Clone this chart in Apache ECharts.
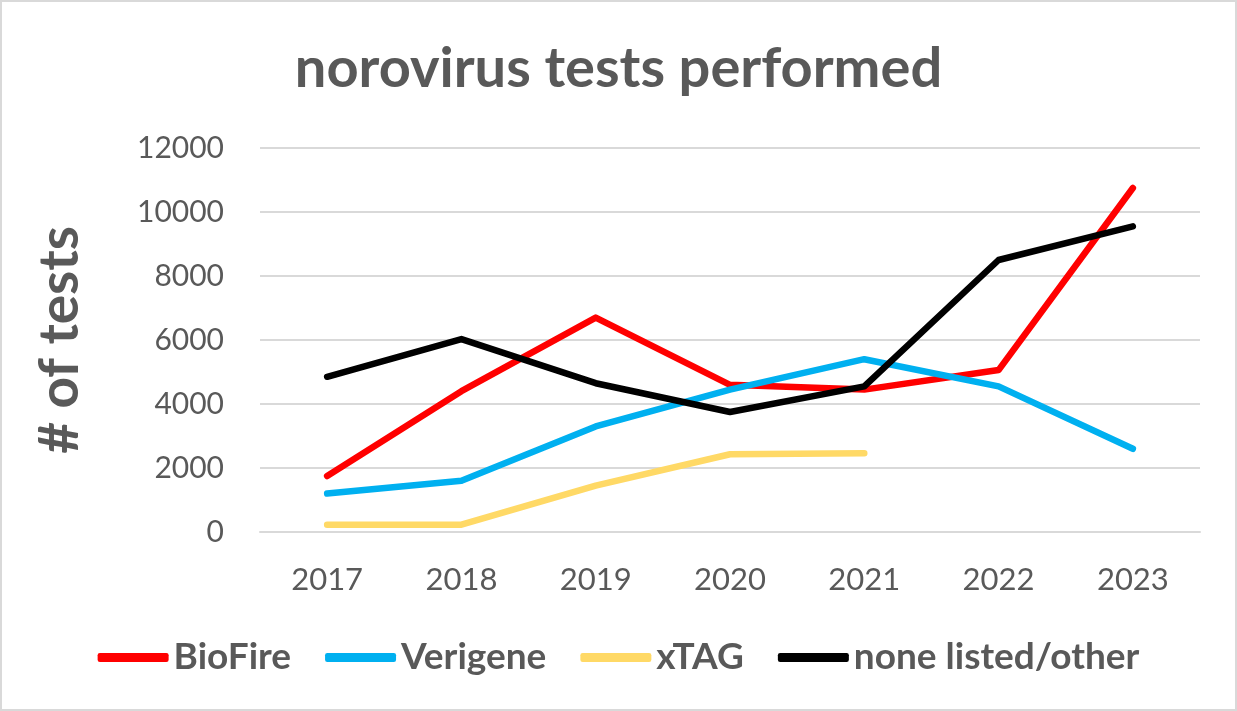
<!DOCTYPE html>
<html>
<head>
    <meta charset="utf-8">
    <title>norovirus tests performed</title>
    <script src="https://cdn.jsdelivr.net/npm/echarts@6/dist/echarts.min.js"></script>
    <style>
        html, body { margin: 0; padding: 0; background: #fff; }
        #chart1 { width: 1233px; height: 707px; border: 2px solid #d9d9d9; }
    </style>
</head>
<body>
<div id="chart1"></div>
<script type="text/javascript">
// data
var years = ['2017', '2018', '2019', '2020', '2021', '2022', '2023'];
var bioFire = [1750, 4400, 6700, 4600, 4450, 5060, 10750];
var verigene = [1200, 1600, 3300, 4450, 5400, 4550, 2600];
var xTag = [230, 230, 1450, 2430, 2460, null, null];
var noneListed = [4850, 6030, 4650, 3750, 4550, 8500, 9550];

var fontName = 'Lato, "Open Sans", sans-serif';
var myChart1 = echarts.init(document.getElementById('chart1'));

function line(name, color, data) {
    return {
        name: name,
        type: 'line',
        data: data,
        symbol: 'none',
        connectNulls: false,
        lineStyle: { color: color, width: 6.5, cap: 'round', join: 'round' },
        itemStyle: { color: color }
    };
}

myChart1.setOption({
    animation: false,
    title: {
        text: 'norovirus tests performed',
        left: 'center',
        top: 34,
        textStyle: { fontFamily: fontName, fontSize: 56, fontWeight: 'bold', color: '#595959' }
    },
    legend: {
        top: 632,
        left: 'center',
        itemWidth: 71,
        itemHeight: 9,
        itemGap: 34,
        icon: 'roundRect',
        textStyle: { fontFamily: fontName, fontSize: 37, fontWeight: 'bold', color: '#595959' },
        data: ['BioFire', 'Verigene', 'xTAG', 'none listed/other']
    },
    grid: { left: 258, right: 35, top: 146, bottom: 177 },
    xAxis: {
        type: 'category',
        data: years,
        boundaryGap: true,
        axisLine: { lineStyle: { color: '#d9d9d9', width: 2 } },
        axisTick: { show: false },
        axisLabel: { fontFamily: fontName, fontSize: 31, color: '#595959', margin: 32 }
    },
    yAxis: {
        type: 'value',
        min: 0,
        max: 12000,
        interval: 2000,
        name: '# of tests',
        nameLocation: 'middle',
        nameGap: 172,
        nameTextStyle: { fontFamily: fontName, fontSize: 55, fontWeight: 'bold', color: '#595959' },
        axisLine: { show: false },
        axisTick: { show: false },
        axisLabel: {
            fontFamily: fontName, fontSize: 30, color: '#595959', margin: 36,
            formatter: function (v) { return String(v); }
        },
        splitLine: { lineStyle: { color: '#d9d9d9', width: 2 } }
    },
    series: [
        line('BioFire', '#ff0000', bioFire),
        line('Verigene', '#00b0f0', verigene),
        line('xTAG', '#ffd966', xTag),
        line('none listed/other', '#000000', noneListed)
    ]
});
</script>
</body>
</html>
